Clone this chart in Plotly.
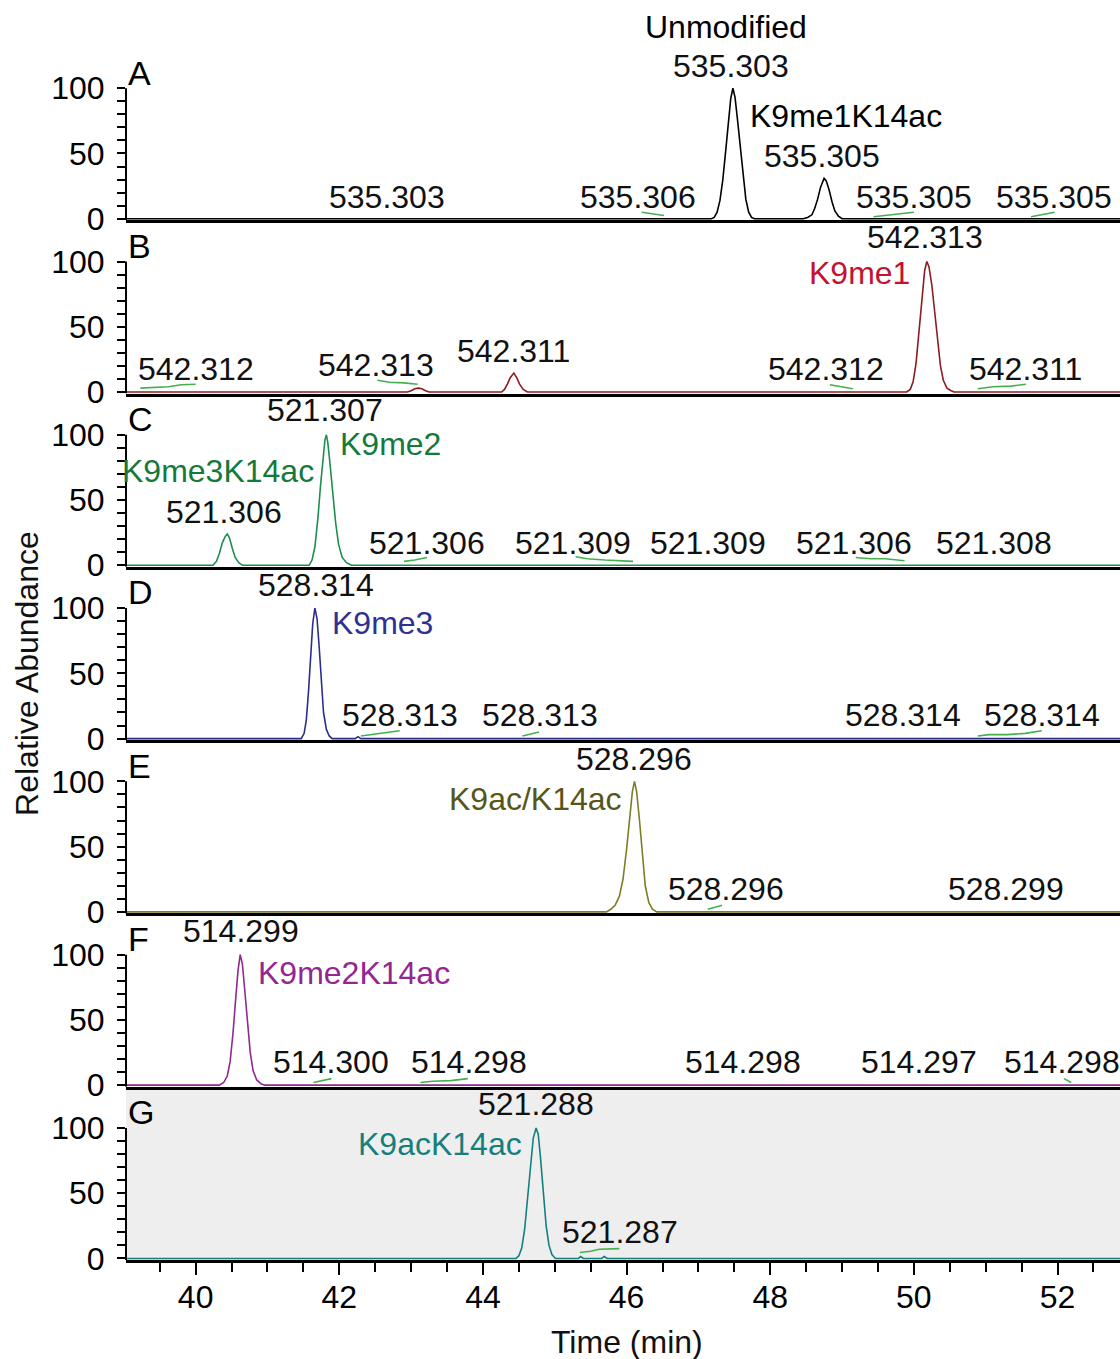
import plotly.graph_objects as go
from plotly.subplots import make_subplots

FONT = "Arial, Liberation Sans, sans-serif"

# ---------------------------------------------------------------------------
# Extracted ion chromatograms (retention time in min, relative abundance in %)
# ---------------------------------------------------------------------------
a_time = [39.0,
          47.18, 47.22, 47.26, 47.30, 47.34, 47.38, 47.42, 47.45, 47.48, 47.51, 47.54, 47.58, 47.62, 47.66, 47.70, 47.74, 47.78,
          48.46, 48.52, 48.58, 48.62, 48.66, 48.70, 48.73, 48.75, 48.78, 48.82, 48.86, 48.90, 48.95, 49.00,
          53.0]
a_abund = [0,
           0, 1, 5, 14, 30, 52, 76, 92, 100, 93, 78, 55, 32, 15, 5, 1, 0,
           0, 1, 3, 8, 15, 24, 29, 31, 29, 22, 13, 6, 2, 0,
           0]

b_time = [39.0,
          42.95, 43.00, 43.05, 43.10, 43.15, 43.20, 43.25,
          44.26, 44.30, 44.34, 44.38, 44.43, 44.47, 44.51, 44.56, 44.62,
          49.90, 49.95, 49.99, 50.03, 50.07, 50.11, 50.15, 50.18, 50.21, 50.25, 50.29, 50.33, 50.37, 50.41, 50.46, 50.52, 50.56,
          53.0]
b_abund = [0,
           0, 1, 2.5, 3, 2.5, 1, 0,
           0, 2, 6, 11, 14.5, 11, 6, 2, 0,
           0, 2, 8, 22, 45, 72, 93, 100, 96, 82, 60, 38, 20, 9, 3, 1, 0,
           0]

c_time = [39.0,
          40.24, 40.29, 40.33, 40.37, 40.41, 40.44, 40.47, 40.51, 40.55, 40.60, 40.65,
          41.58, 41.62, 41.66, 41.70, 41.74, 41.77, 41.80, 41.82, 41.84, 41.87, 41.91, 41.95, 41.99, 42.04, 42.10, 42.17,
          53.0]
c_abund = [0,
           0, 3, 9, 17, 22, 24, 21, 13, 6, 2, 0,
           0, 4, 14, 35, 62, 82, 96, 100, 94, 78, 55, 32, 16, 6, 2, 0,
           0]

d_time = [39.0,
          41.47, 41.51, 41.54, 41.57, 41.60, 41.63, 41.66, 41.69, 41.72, 41.75, 41.78, 41.82, 41.86, 41.90,
          42.22, 42.26, 42.30,
          53.0]
d_abund = [0,
           0, 4, 14, 35, 65, 88, 100, 92, 70, 42, 20, 7, 2, 0,
           0, 1.5, 0,
           0]

e_time = [39.0,
          45.72, 45.78, 45.84, 45.90, 45.95, 46.00, 46.04, 46.08, 46.11, 46.14, 46.18, 46.22, 46.26, 46.31, 46.36, 46.42,
          53.0]
e_abund = [0,
           0, 2, 5, 12, 25, 48, 72, 92, 100, 92, 70, 42, 20, 7, 2, 0,
           0]

f_time = [39.0,
          40.33, 40.39, 40.44, 40.48, 40.52, 40.56, 40.59, 40.62, 40.65, 40.68, 40.72, 40.76, 40.80, 40.85, 40.91, 40.96,
          53.0]
f_abund = [0,
           0, 2, 7, 18, 40, 68, 88, 100, 93, 75, 48, 25, 11, 4, 1, 0,
           0]

g_time = [39.0,
          44.46, 44.50, 44.54, 44.58, 44.62, 44.66, 44.70, 44.74, 44.77, 44.80, 44.84, 44.88, 44.92, 44.96, 45.01,
          45.33, 45.36, 45.40, 45.65, 45.69, 45.73,
          53.0]
g_abund = [0,
           0, 2, 8, 22, 45, 72, 92, 100, 95, 78, 50, 25, 10, 3, 0,
           0, 1.5, 0, 0, 1.5, 0,
           0]

# Minor noise peaks picked by the software (time list, abundance list)
noise_a = [([46.21, 46.32, 46.42, 46.52], [5.0, 4.0, 3.0, 2.5]),
           ([49.44, 49.60, 49.78, 50.00], [1.5, 2.5, 3.5, 5.0]),
           ([51.63, 51.78, 51.96], [1.5, 3.0, 5.0])]
noise_b = [([39.23, 39.45, 39.62, 39.80, 40.00], [3, 3.5, 4, 5.5, 6]),
           ([42.53, 42.70, 42.90, 43.09], [9, 7.5, 7, 6]),
           ([48.83, 48.97, 49.15], [5.5, 4, 2.5]),
           ([50.89, 51.10, 51.35, 51.56], [2.5, 4, 4.5, 6])]
noise_c = [([42.90, 43.05, 43.22], [3, 4, 6]),
           ([45.29, 45.45, 45.70, 45.90, 46.09], [6.5, 5, 4, 3.5, 3]),
           ([49.19, 49.40, 49.60, 49.87], [6, 5, 5, 3.5])]
noise_d = [([42.30, 42.50, 42.70, 42.84], [2, 3.5, 4.5, 6]),
           ([44.55, 44.78], [2, 5]),
           ([50.89, 51.05, 51.30, 51.55, 51.78], [2, 3, 3, 4, 6])]
noise_e = [([47.13, 47.33], [2, 5])]
noise_f = [([41.64, 41.89], [2, 5]),
           ([43.13, 43.30, 43.55, 43.79], [2, 3, 3.5, 5]),
           ([52.09, 52.19], [5, 2])]
noise_g = [([45.35, 45.50, 45.62, 45.90], [4.5, 5.5, 7, 7.5])]

# Peak labels: (m/z text, retention time, label height in %)
mz_a = [("535.303", 47.45, 117), ("535.305", 48.72, 48), ("535.303", 42.67, 17),
        ("535.306", 46.16, 17), ("535.305", 50.00, 17), ("535.305", 51.95, 17)]
mz_b = [("542.313", 50.15, 119), ("542.312", 40.01, 17.6), ("542.313", 42.51, 20.7),
        ("542.311", 44.42, 31.4), ("542.312", 48.77, 17.6), ("542.311", 51.55, 17.6)]
mz_c = [("521.307", 41.80, 118.8), ("521.306", 40.40, 40.6), ("521.306", 43.22, 16.9),
        ("521.309", 45.26, 16.9), ("521.309", 47.14, 16.9), ("521.306", 49.16, 16.9),
        ("521.308", 51.11, 16.9)]
mz_d = [("528.314", 41.67, 118), ("528.313", 42.84, 18.4), ("528.313", 44.79, 18.4),
        ("528.314", 49.85, 18.4), ("528.314", 51.78, 18.4)]
mz_e = [("528.296", 46.10, 117), ("528.296", 47.38, 17.6), ("528.299", 51.28, 17.6)]
mz_f = [("514.299", 40.63, 118), ("514.300", 41.89, 17.6), ("514.298", 43.80, 17.6),
        ("514.298", 47.62, 17.6), ("514.297", 50.07, 17.6), ("514.298", 52.06, 17.6)]
mz_g = [("521.288", 44.74, 118), ("521.287", 45.91, 20)]

# Modification names: (text, retention time, height, anchor side)
mod_a = [("K9me1K14ac", 47.69, 79, "left")]
mod_b = [("K9me1", 49.97, 91, "right")]
mod_c = [("K9me2", 41.98, 92.7, "left"), ("K9me3K14ac", 41.67, 72, "right")]
mod_d = [("K9me3", 41.87, 88.9, "left")]
mod_e = [("K9ac/K14ac", 45.96, 86.6, "right")]
mod_f = [("K9me2K14ac", 40.84, 85.8, "left")]
mod_g = [("K9acK14ac", 44.57, 87.4, "right")]

panel_letters = ["A", "B", "C", "D", "E", "F", "G"]
x_ticks = [40, 42, 44, 46, 48, 50, 52]
y_ticks = [0, 10, 20, 30, 40, 50, 60, 70, 80, 90, 100]

panels = [
    dict(t=a_time, y=a_abund, noise=noise_a, mz=mz_a, mods=mod_a, line="#000000", text="#000000"),
    dict(t=b_time, y=b_abund, noise=noise_b, mz=mz_b, mods=mod_b, line="#8E1B22", text="#C4122F"),
    dict(t=c_time, y=c_abund, noise=noise_c, mz=mz_c, mods=mod_c, line="#1E8E4E", text="#137A3C"),
    dict(t=d_time, y=d_abund, noise=noise_d, mz=mz_d, mods=mod_d, line="#2B2C8C", text="#2E3192"),
    dict(t=e_time, y=e_abund, noise=noise_e, mz=mz_e, mods=mod_e, line="#7C7D24", text="#57561A"),
    dict(t=f_time, y=f_abund, noise=noise_f, mz=mz_f, mods=mod_f, line="#8E2A8E", text="#93278F"),
    dict(t=g_time, y=g_abund, noise=noise_g, mz=mz_g, mods=mod_g, line="#13807E", text="#157F7C"),
]

NOISE_COLOR = "#43B04C"
X_RANGE = [39.03, 52.87]
Y_RANGE = [-1.2, 131.6]

fig = make_subplots(rows=7, cols=1, shared_xaxes=False, vertical_spacing=0)

annotations = []
shapes = []

for i, p in enumerate(panels):
    row = i + 1
    suffix = "" if row == 1 else str(row)
    fig.add_trace(go.Scatter(x=p["t"], y=p["y"], mode="lines",
                             line=dict(color=p["line"], width=1.6),
                             hoverinfo="skip", showlegend=False), row=row, col=1)
    for nt, nv in p["noise"]:
        fig.add_trace(go.Scatter(x=nt, y=nv, mode="lines",
                                 line=dict(color=NOISE_COLOR, width=1.6),
                                 hoverinfo="skip", showlegend=False), row=row, col=1)

    xref, yref = "x" + suffix, "y" + suffix
    for txt, t, v in p["mz"]:
        annotations.append(dict(text=txt, x=t, y=v, xref=xref, yref=yref,
                                xanchor="center", yanchor="middle", showarrow=False,
                                font=dict(family=FONT, size=32, color="#111111")))
    for txt, t, v, side in p["mods"]:
        annotations.append(dict(text=txt, x=t, y=v, xref=xref, yref=yref,
                                xanchor=side, yanchor="middle", showarrow=False,
                                font=dict(family=FONT, size=32, color=p["text"])))
    annotations.append(dict(text=panel_letters[i], x=0.0, y=112,
                            xref=xref + " domain", yref=yref,
                            xanchor="left", yanchor="middle", showarrow=False,
                            font=dict(family=FONT, size=34, color="#000000")))

    # y axis spine only spans 0-100
    shapes.append(dict(type="line", xref=xref + " domain", yref=yref,
                       x0=0, x1=0, y0=Y_RANGE[0], y1=100,
                       line=dict(color="#000000", width=2)))

    fig.update_yaxes(row=row, col=1, range=Y_RANGE, tickvals=y_ticks,
                     ticktext=[str(v) if v % 50 == 0 else "" for v in y_ticks],
                     ticks="outside", ticklen=8, tickwidth=2, tickcolor="#000000",
                     showline=False, showgrid=False, zeroline=False,
                     ticklabelstandoff=6,
                     tickfont=dict(family=FONT, size=32, color="#000000"))
    fig.update_xaxes(row=row, col=1, range=X_RANGE, showgrid=False, zeroline=False,
                     showline=True, linecolor="#000000", linewidth=3,
                     layer="below traces")
    if row < 7:
        fig.update_xaxes(row=row, col=1, showticklabels=False, ticks="")
    else:
        fig.update_xaxes(row=row, col=1, tickvals=x_ticks, ticks="outside",
                         ticklen=12, tickwidth=2, tickcolor="#000000",
                         ticklabelstandoff=-5,
                         tickfont=dict(family=FONT, size=32, color="#000000"),
                         minor=dict(tickvals=[39.5 + 0.5 * k for k in range(27)],
                                    ticks="outside", ticklen=9, tickwidth=2,
                                    tickcolor="#000000"))

# grey backdrop of panel G
shapes.append(dict(type="rect", xref="x7 domain", yref="y7 domain",
                   x0=0, x1=1, y0=0, y1=1, layer="below",
                   fillcolor="#EEEEEE", line=dict(width=0)))

# headline above panel A
annotations.append(dict(text="Unmodified", x=47.39, y=1.0165, xref="x", yref="paper",
                        xanchor="center", yanchor="middle", showarrow=False,
                        font=dict(family=FONT, size=32, color="#000000")))
# axis titles
annotations.append(dict(text="Time (min)", x=0.504, y=-0.068, xref="paper", yref="paper",
                        xanchor="center", yanchor="middle", showarrow=False,
                        font=dict(family=FONT, size=32, color="#111111")))
annotations.append(dict(text="Relative Abundance", x=-0.0996, y=0.484,
                        xref="paper", yref="paper", textangle=-90,
                        xanchor="center", yanchor="middle", showarrow=False,
                        font=dict(family=FONT, size=32, color="#111111")))

fig.update_layout(width=1120, height=1359,
                  margin=dict(l=126, r=0, t=47, b=99),
                  paper_bgcolor="#FFFFFF", plot_bgcolor="rgba(0,0,0,0)",
                  annotations=annotations, shapes=shapes,
                  font=dict(family=FONT, size=32, color="#000000"))

fig.write_html("out.html")
